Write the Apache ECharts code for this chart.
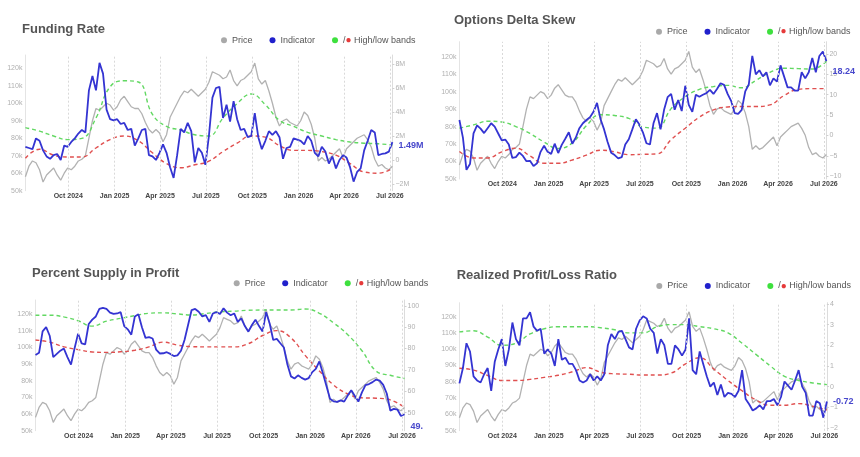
<!DOCTYPE html>
<html><head><meta charset="utf-8">
<script src="https://cdn.jsdelivr.net/npm/echarts@6/dist/echarts.min.js"></script>
<style>html,body{margin:0;padding:0;background:#fff}#c{width:860px;height:457px}</style>
</head><body><div id="c"></div>
<script>
// ---------- DATA ----------
const START_DATE = '2024-07-08';
const quarterTicks = ['2024-10-01','2025-01-01','2025-04-01','2025-07-01','2025-10-01','2026-01-01','2026-04-01','2026-07-01'];
const priceTicks = [50,60,70,80,90,100,110,120];
const fundingTicks = [-2,0,2,4,6,8];
const skewTicks = [-10,-5,0,5,10,15,20];
const supplyTicks = [50,60,70,80,90,100];
const plTicks = [-2,-1,0,1,2,3,4];
const price = [58,64,67,66,62,55,59,61,63,59,
  56,60,63,62,64,67,68,70,80,90,
  97,96,98,100,99,96,98,102,104,101,
  98,97,97,94,89,85,83,85,83,78,
  82,92,96,100,104,107,106,108,106,104,
  106,108,112,118,117,116,114,115,119,113,
  110,113,114,116,118,123,114,111,113,107,
  100,92,87,90,91,89,88,87,90,95,
  93,88,80,67,69,67,68,70,72,74,
  69,74,76,78,80,81,82,79,75,68,
  64,65,63,62,64];
const fundingRate = [1.1,1.0,0.9,1.8,1.6,0.8,0.3,0.1,0.4,0.5,
  0.0,1.2,1.1,1.5,1.8,2.2,2.5,2.3,5.8,7.0,
  5.8,8.1,7.2,4.2,3.4,3.3,3.4,3.0,3.1,2.5,
  2.6,1.2,1.8,2.5,2.6,0.4,0.3,0.0,0.6,1.3,
  0.6,-0.6,-1.5,0.4,2.6,2.3,3.1,2.4,-0.2,1.0,
  0.6,-0.4,2.0,5.2,6.0,6.1,3.5,4.6,3.2,4.9,
  3.4,2.5,2.6,1.9,2.0,3.9,1.9,0.9,1.6,2.4,
  2.1,2.4,1.9,0.1,1.0,1.1,1.8,1.7,1.6,1.3,
  2.0,1.6,0.6,0.3,1.1,0.7,-0.3,0.3,-0.7,0.0,
  0.4,0.2,-0.6,-1.8,-1.0,-0.7,0.8,1.6,2.5,2.3,
  0.4,0.5,0.55,0.7,1.49];
const deltaSkew = [3.8,-0.5,-8.4,-7.0,0.5,2.5,1.7,0.6,1.8,3.0,
  2.2,0.5,-1.2,-1.0,-2.2,-5.5,-5.3,-4.2,-5.0,-6.3,
  -6.2,-7.5,-6.8,-4.0,-2.5,-4.0,-4.5,-2.0,-4.3,-2.3,
  -0.8,0.8,-2.0,-0.5,1.8,3.0,3.8,4.5,5.8,8.0,
  4.0,1.5,-1.6,-4.2,-4.8,-5.6,-5.3,-2.2,-0.9,1.5,
  4.0,2.7,0.8,-1.9,-2.2,3.0,5.5,1.5,6.3,9.4,
  10.2,6.3,8.7,6.0,12.2,7.5,5.8,10.0,9.5,10.0,
  10.4,11.2,10.2,11.4,12.8,12.4,10.2,8.5,5.5,5.3,
  6.3,10.8,12.5,19.5,15.0,16.0,14.5,15.5,12.3,14.0,
  13.2,17.2,14.5,11.8,11.8,11.0,11.0,15.5,14.0,15.5,
  19.0,15.5,19.5,20.6,18.24];
const supplyProfit = [77,78,88,90,86,76,77.5,79,80,76,
  72.5,80,87,82.4,82,91.5,93.5,95,98.5,99,
  98.5,96.8,96.2,96.4,97,90.5,89,86.5,95,96,
  90,85,85.3,84.7,79.5,77.7,77.8,78.3,77.5,76.5,
  76.8,79,84,91,98,98.5,97.2,95,95.6,92.5,
  96.4,97,96.2,98.8,96.8,95.6,96.4,92.5,94.1,90.5,
  87.9,91,93.5,90.5,88,97,91.7,84,84.5,82.5,
  80.5,72.5,67,66,67.5,66.3,65.5,66.2,69,70.5,
  74,68.5,62.5,56.5,55.3,55.1,55.8,55.2,58,60.5,
  57.8,55.2,59.5,62.9,63.4,64.3,65.5,65,63,59,
  51,51.8,51.5,48.5,49.3];
const plRatio = [0.16,0.9,2.1,1.7,0.5,0.3,0.2,0.6,0.9,-0.2,
  1.2,1.8,2.3,1.0,1.8,3.1,2.3,2.0,3.3,3.3,
  3.6,2.9,2.7,2.8,1.6,1.8,1.6,1.0,2.3,1.3,
  1.4,1.1,1.1,0.8,0.3,0.2,0.3,0.6,0.3,0.5,
  0.3,0.6,2.0,2.55,2.3,2.65,2.7,2.3,1.9,1.8,
  2.8,3.2,3.4,3.3,2.8,2.6,1.6,2.3,2.0,1.1,
  1.1,2.0,1.8,1.5,1.8,3.3,0.8,0.6,1.7,1.1,
  0.5,0.0,0.2,-0.4,0.1,-0.5,-0.3,-0.35,-0.5,-0.2,
  0.8,-0.6,-0.85,-1.15,-1.05,-0.9,-1.1,-0.7,-0.7,-0.6,
  -0.9,-0.5,0.25,0.05,-0.15,0.3,0.8,0.0,-0.3,-1.4,
  -1.4,-0.7,-0.8,-1.5,-0.72];
const fundingHigh = [2.7,2.4,2.0,1.7,1.8,3.5,6.1,6.6,6.5,3.8,2.8,2.5,2.1,2.0,3.5,4.7,5.5,4.6,3.3,2.8,2.3,2.0,1.7,1.5,1.4,1.35,1.25];
const fundingLow  = [0.15,0.9,0.4,0.25,0.25,1.0,1.7,2.0,1.6,0.6,-0.3,-0.65,-0.4,-0.1,0.7,1.4,2.0,1.9,1.2,0.8,0.8,0.7,0.4,-0.3,-1.0,-1.1,-0.7];
const skewHigh = [1.8,2.6,3.5,3.3,2.2,0.5,-1.6,-3.2,-1.8,2.4,5.1,4.9,4.2,2.1,1.8,6.6,9.5,11.3,12.0,12.3,11.7,13.5,15.5,16.5,16.4,16.3,18.2];
const skewLow  = [-3.9,-5.5,-5.5,-4.0,-3.1,-5.0,-6.8,-6.8,-6.0,-4.8,-3.6,-4.0,-4.7,-4.6,-4.5,-1.0,1.8,4.5,6.3,7.0,7.1,7.1,7.5,9.8,11.3,11.5,11.5];
const supplyHigh = [95.6,95.6,94.8,93,90.5,92.8,94.1,95.4,96.5,96.7,96.2,95.7,96.4,97.2,97.5,97.9,98,98,98,98.5,96.5,92,86.5,79,69.5,67.5,66];
const supplyLow  = [84,83,80.8,79.5,78.4,78.2,78.5,79.2,80.8,83,81.6,80.9,80.8,80.8,80.8,82.3,86.1,88.4,85,76.8,69.5,63,58.8,57,56.8,56,52.5];
const plHigh = [2.65,2.7,2.4,2.0,2.1,2.55,2.8,2.9,2.9,2.9,2.85,2.75,2.6,2.6,2.9,3.0,3.0,2.9,2.8,2.6,2.1,1.55,1.0,0.5,0.3,0.18,0.1];
const plLow  = [0.89,0.8,0.54,0.3,0.3,0.35,0.45,0.55,0.72,0.92,0.7,0.62,0.6,0.56,0.56,0.66,1.1,1.4,0.85,0.3,-0.2,-0.65,-0.9,-0.9,-0.82,-0.95,-1.13];

const titles = ['Funding Rate','Options Delta Skew','Percent Supply in Profit','Realized Profit/Loss Ratio'];
const lastLabels = ['1.49M','18.24','49.','-0.72'];
const legendNames = ['Price','Indicator','High/low bands'];

// ---------- BUILD ----------
const FONT = '"Liberation Sans", Arial, sans-serif';
const MONTHS = ['Jan','Feb','Mar','Apr','May','Jun','Jul','Aug','Sep','Oct','Nov','Dec'];
const DAY = 86400000;
function utc(s){ const p = s.split('-').map(Number); return Date.UTC(p[0], p[1]-1, p[2]); }
const t0 = utc(START_DATE);
const weekDates = price.map((_, i) => t0 + i * 7 * DAY);
const bandDates = fundingHigh.map((_, i) => t0 + i * 28 * DAY);
const xMin = weekDates[0], xMax = weekDates[weekDates.length - 1];
const qTicks = quarterTicks.map(utc);
const signFmt = v => (v < 0 ? '\u2212' + Math.abs(v) : String(v));
const dateFmt = v => { const d = new Date(v); return MONTHS[d.getUTCMonth()] + ' ' + d.getUTCFullYear(); };

const panels = [
  {ind: fundingRate, hi: fundingHigh, lo: fundingLow, ticks: fundingTicks,
   fmt: v => v === 0 ? '0' : (v < 0 ? '\u2212' : '') + Math.abs(v) + 'M',
   grid: {left: 25.4, top: 55, width: 367, height: 135.7}, pMax: 127.6, iMin: -2.56, iMax: 8.75,
   titlePos: [22, 23], legendPos: [221, 35.3], dy: 3},
  {ind: deltaSkew, hi: skewHigh, lo: skewLow, ticks: skewTicks, fmt: signFmt,
   grid: {left: 459.4, top: 41.7, width: 367, height: 137.3}, pMax: 128.6, iMin: -10.66, iMax: 23.0,
   titlePos: [454, 14], legendPos: [656, 26.7], dy: 10},
  {ind: supplyProfit, hi: supplyHigh, lo: supplyLow, ticks: supplyTicks, fmt: v => String(v),
   grid: {left: 35.5, top: 300, width: 369, height: 130.7}, pMax: 128.6, iMin: 41.6, iMax: 102.7,
   titlePos: [32, 266.5], legendPos: [233.7, 278.3], dy: 12},
  {ind: plRatio, hi: plHigh, lo: plLow, ticks: plTicks, fmt: signFmt,
   grid: {left: 459.4, top: 302.7, width: 367.5, height: 128}, pMax: 128.6, iMin: -2.13, iMax: 4.06,
   titlePos: [456.7, 269], legendPos: [656.3, 281], dy: 0}
];

const option = {
  animation: false, backgroundColor: '#fff',
  title: [], legend: [], grid: [], xAxis: [], yAxis: [], series: []
};

panels.forEach((p, i) => {
  option.grid.push(Object.assign({show: false}, p.grid));
  option.title.push({
    text: titles[i], left: p.titlePos[0], top: p.titlePos[1], padding: 0,
    textStyle: {fontFamily: FONT, fontSize: 13, fontWeight: 'bold', color: '#555'}
  });
  option.legend.push({
    left: p.legendPos[0], top: p.legendPos[1], padding: 0, itemGap: 17,
    itemWidth: 6, itemHeight: 6, selectedMode: false,
    textStyle: {fontFamily: FONT, fontSize: 9, color: '#555', lineHeight: 10,
      rich: {sl: {fontSize: 9, color: '#555', fontFamily: FONT},
             rd: {fontSize: 10, color: '#e63a3a'},
             tx: {fontSize: 9, color: '#555', fontFamily: FONT}}},
    formatter: n => n === legendNames[2] ? '{sl|/}{rd|\u25CF}{tx| ' + n + '}' : n,
    data: [
      {name: legendNames[0], icon: 'circle', itemStyle: {color: '#a9a9a9'}},
      {name: legendNames[1], icon: 'circle', itemStyle: {color: '#2020cc'}},
      {name: legendNames[2], icon: 'circle', itemStyle: {color: '#3ee03e'}}
    ]
  });
  option.xAxis.push({
    type: 'value', gridIndex: i, min: xMin, max: xMax,
    axisLine: {show: false}, axisTick: {show: false}, splitLine: {show: false},
    axisLabel: {customValues: qTicks, fontFamily: FONT, fontSize: 7, fontWeight: 'bold', color: '#444', margin: 2,
      formatter: dateFmt}
  });
  option.yAxis.push({
    type: 'value', gridIndex: i, position: 'left', min: 50, max: p.pMax, splitLine: {show: false},
    axisLine: {show: true, lineStyle: {color: '#e4e4e4'}},
    axisTick: {show: false},
    axisLabel: {customValues: priceTicks, fontFamily: FONT, fontSize: 7, color: '#b0b0b0', margin: 3, formatter: v => v + 'k'}
  });
  option.yAxis.push({
    type: 'value', gridIndex: i, position: 'right', min: p.iMin, max: p.iMax, splitLine: {show: false},
    axisLine: {show: true, lineStyle: {color: '#dcdcdc'}},
    axisTick: {show: true, length: 2, lineStyle: {color: '#cfcfcf'}, customValues: p.ticks},
    axisLabel: {customValues: p.ticks, fontFamily: FONT, fontSize: 7, color: '#b0b0b0', margin: 3, formatter: p.fmt}
  });
  option.series.push({
    name: legendNames[0], type: 'line', xAxisIndex: i, yAxisIndex: 2 * i, symbol: 'none', silent: true, z: 2,
    data: price.map((v, k) => [weekDates[k], v]),
    lineStyle: {color: '#b2b2b2', width: 1.3}, itemStyle: {color: '#a9a9a9'},
    markLine: {silent: true, symbol: ['none', 'none'], label: {show: false}, animation: false,
      lineStyle: {color: '#d9d9d9', type: [2, 2], width: 1},
      data: qTicks.map(t => ({xAxis: t}))}
  });
  option.series.push({
    name: legendNames[2], type: 'line', xAxisIndex: i, yAxisIndex: 2 * i + 1, symbol: 'none', silent: true, z: 3, smooth: 0.45,
    data: p.hi.map((v, k) => [bandDates[k], v]),
    lineStyle: {color: '#62d862', width: 1.4, type: [4, 3]}, itemStyle: {color: '#3ee03e'}
  });
  option.series.push({
    name: legendNames[2], type: 'line', xAxisIndex: i, yAxisIndex: 2 * i + 1, symbol: 'none', silent: true, z: 3, smooth: 0.45,
    data: p.lo.map((v, k) => [bandDates[k], v]),
    lineStyle: {color: '#e05050', width: 1.4, type: [4, 3]}, itemStyle: {color: '#e63a3a'}
  });
  option.series.push({
    name: legendNames[1], type: 'line', xAxisIndex: i, yAxisIndex: 2 * i + 1, symbol: 'none', silent: true, z: 4,
    data: p.ind.map((v, k) => [weekDates[k], v]),
    lineStyle: {color: '#3434d2', width: 1.8}, itemStyle: {color: '#2020cc'},
    endLabel: {show: true, formatter: lastLabels[i], distance: 6, offset: [0, p.dy],
      fontFamily: FONT, fontSize: 9, fontWeight: 'bold', color: '#4848cc'}
  });
});

const chart = echarts.init(document.getElementById('c'), null, {width: 860, height: 457});
chart.setOption(option);
</script>
</body></html>
